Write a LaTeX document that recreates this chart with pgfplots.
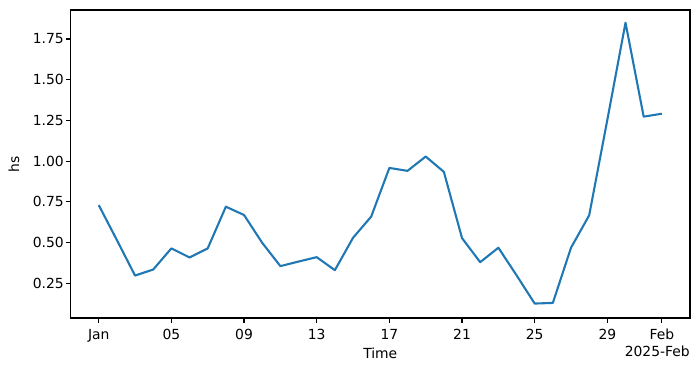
\documentclass[border=0pt]{standalone}
\usepackage{fontspec}
\setmainfont{DejaVu Sans}
\usepackage{pgfplots}
\pgfplotsset{compat=1.18}
\definecolor{tabblue}{HTML}{1F77B4}
\begin{document}
\begin{tikzpicture}
\begin{axis}[
  scale only axis, width=446pt, height=221.8pt,
  xmin=-0.55, xmax=33.55, ymin=0.036, ymax=1.928,
  xtick={1,5,9,13,17,21,25,29,32},
  xticklabels={Jan,05,09,13,17,21,25,29,Feb},
  ytick={0.25,0.5,0.75,1.0,1.25,1.5,1.75},
  /pgf/number format/assume math mode=true,
  yticklabel style={/pgf/number format/fixed, /pgf/number format/fixed zerofill, /pgf/number format/precision=2, anchor=east, inner sep=0pt, xshift=-1.2pt},
  xticklabel style={anchor=base, inner sep=0pt, yshift=-11.8pt},
  tick align=outside, major tick length=3.5pt,
  tick style={line width=0.8pt, black},
  axis line style={line width=0.8pt},
  xtick pos=bottom, ytick pos=left,
  font=\fontsize{10}{12}\selectfont,
  xlabel={Time}, ylabel={hs},
  xlabel style={at={(axis description cs:0.5,-0.1298)}, anchor=base, inner sep=0pt},
  ylabel style={at={(axis description cs:-0.0832,0.5)}, anchor=base, inner sep=0pt},
  clip=false,
]
\addplot[tabblue, line width=1.5pt, line join=round] coordinates {
(1,0.73) (2,0.515) (3,0.297) (4,0.334) (5,0.464) (6,0.408) (7,0.464) (8,0.72)
(9,0.669) (10,0.498) (11,0.355) (12,0.383) (13,0.41) (14,0.33) (15,0.529) (16,0.659)
(17,0.958) (18,0.94) (19,1.028) (20,0.934) (21,0.527) (22,0.379) (23,0.468) (24,0.299)
(25,0.125) (26,0.129) (27,0.468) (28,0.667) (29,1.254) (30,1.85) (31,1.273) (32,1.291)
};
\node[anchor=base east, inner sep=0pt] at (axis description cs:1,-0.1257) {2025-Feb};
\end{axis}
\pgfresetboundingbox
\path ([shift={(-50.8pt,-38.2pt)}]current axis.south west) rectangle ([shift={(7.2pt,7.2pt)}]current axis.north east);
\end{tikzpicture}
\end{document}
